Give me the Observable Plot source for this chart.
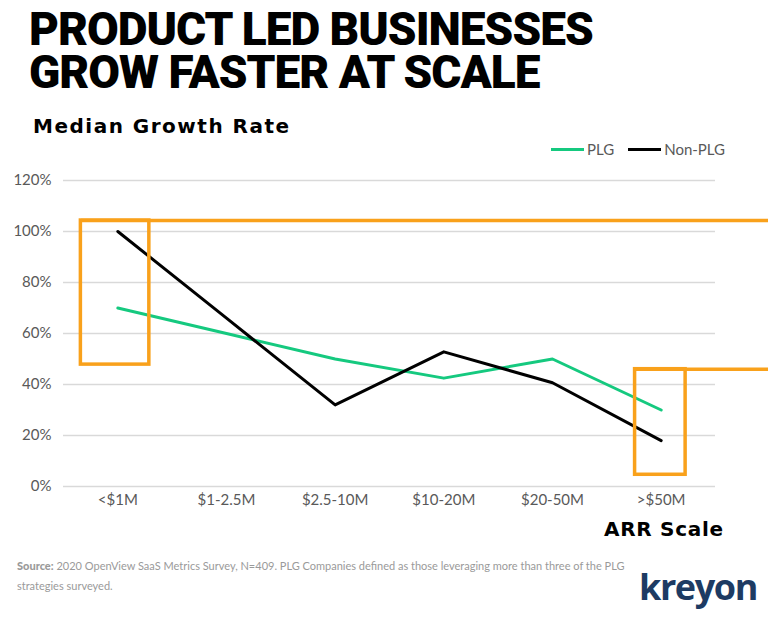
<!DOCTYPE html>
<html>
<head>
<meta charset="utf-8">
<script src="https://cdn.jsdelivr.net/npm/d3@7"></script>
<script src="https://cdn.jsdelivr.net/npm/@observablehq/plot@0.6"></script>
<style>
  html, body { margin: 0; padding: 0; background: #fff; }
  body { width: 768px; height: 618px; position: relative; overflow: hidden; font-family: "Lato", "Open Sans", sans-serif; }
  .title { position: absolute; left: 29px; font-family: Roboto, "Liberation Sans", sans-serif; font-weight: 900; font-size: 46px; line-height: 40px; color: #000; letter-spacing: -1px; white-space: nowrap; }
  .subtitle { position: absolute; left: 33px; top: 114px; font-family: "DejaVu Sans", sans-serif; font-weight: 700; font-size: 20px; letter-spacing: 1.5px; color: #000; white-space: nowrap; }
  .legend { position: absolute; left: 551px; top: 140px; font-size: 15px; color: #595959; display: flex; align-items: center; white-space: nowrap; }
  .legend .sw { display: inline-block; width: 33px; height: 3px; margin-right: 3px; }
  .legend .item { display: flex; align-items: center; margin-right: 14px; }
  #chart { position: absolute; left: 0; top: 140px; }
  .xtitle { position: absolute; left: 604px; top: 517px; font-family: "DejaVu Sans", sans-serif; font-weight: 700; font-size: 20px; letter-spacing: 0.7px; color: #000; white-space: nowrap; }
  .source { position: absolute; left: 17px; top: 556px; font-size: 11px; line-height: 20px; color: #9a9a9a; white-space: nowrap; }
  .source div { height: 20px; }
  .source b { font-weight: 900; }
  .logo { position: absolute; left: 639px; top: 567px; font-family: "Open Sans", sans-serif; font-weight: 700; font-size: 36px; line-height: 40px; letter-spacing: -1.4px; color: #1d3b63; white-space: nowrap; }
</style>
</head>
<body>
<div class="title" style="top:9px">PRODUCT LED BUSINESSES</div>
<div class="title" style="top:52px">GROW FASTER AT SCALE</div>
<div class="subtitle">Median Growth Rate</div>
<div class="legend" id="legend"></div>
<div id="chart"></div>
<div class="xtitle">ARR Scale</div>
<div class="source">
  <div><b>Source:</b> <span>2020 OpenView SaaS Metrics Survey, N=409. PLG Companies defined as those leveraging more than three of the PLG</span></div>
  <div>strategies surveyed.</div>
</div>
<div class="logo">kreyon</div>
<script>
// ---- data ----
const categories = ["<$1M", "$1-2.5M", "$2.5-10M", "$10-20M", "$20-50M", ">$50M"];
const plgValues = [70, 60, 50, 42.5, 50, 30];
const nonPlgValues = [100, 66, 32, 52.8, 40.7, 18];
const seriesNames = ["PLG", "Non-PLG"];
const seriesColors = ["#15c97f", "#000000"];
const yTicks = [0, 20, 40, 60, 80, 100, 120];
// highlight boxes (in category-index / percent units)
const boxX1 = [-0.34, 4.76];
const boxX2 = [0.29, 5.225];
const boxY1 = [47.8, 4.6];
const boxY2 = [104.3, 46];
const lineXEnd = [5.99, 5.99];

// legend
const legend = document.getElementById("legend");
seriesNames.forEach((n, i) => {
  const it = document.createElement("div");
  it.className = "item";
  it.innerHTML = `<span class="sw" style="background:${seriesColors[i]}"></span><span>${n}</span>`;
  legend.appendChild(it);
});

const rows = [];
categories.forEach((c, i) => rows.push({series: "PLG", i, value: plgValues[i]}));
categories.forEach((c, i) => rows.push({series: "Non-PLG", i, value: nonPlgValues[i]}));
const boxes = boxX1.map((x, k) => ({x1: boxX1[k], x2: boxX2[k], y1: boxY1[k], y2: boxY2[k], xe: lineXEnd[k]}));

const orange = "#f9a11b";
const chart = Plot.plot({
  width: 768,
  height: 380,
  marginLeft: 63,
  marginRight: 53,
  marginTop: 40,
  marginBottom: 34,
  style: {fontFamily: "Lato, 'Open Sans', sans-serif", fontSize: "15px", color: "#595959", background: "transparent", overflow: "visible"},
  x: {domain: [-0.5, categories.length - 0.5], ticks: d3.range(categories.length), tickFormat: i => categories[i], tickSize: 0, tickPadding: 8, label: null},
  y: {domain: [0, 120], ticks: yTicks, tickFormat: d => d + "%", tickSize: 0, tickPadding: 12, label: null},
  color: {domain: seriesNames, range: seriesColors},
  marks: [
    Plot.gridY(yTicks, {stroke: "#d9d9d9", strokeOpacity: 1, strokeWidth: 1.5}),
    Plot.line(rows, {x: "i", y: "value", z: "series", stroke: "series", strokeWidth: 3}),
    Plot.rect(boxes, {x1: "x1", x2: "x2", y1: "y1", y2: "y2", fill: "none", stroke: orange, strokeWidth: 3.5}),
    Plot.link(boxes, {x1: "x1", x2: "xe", y1: "y2", y2: "y2", stroke: orange, strokeWidth: 3.5})
  ]
});
document.getElementById("chart").appendChild(chart);
</script>
</body>
</html>
